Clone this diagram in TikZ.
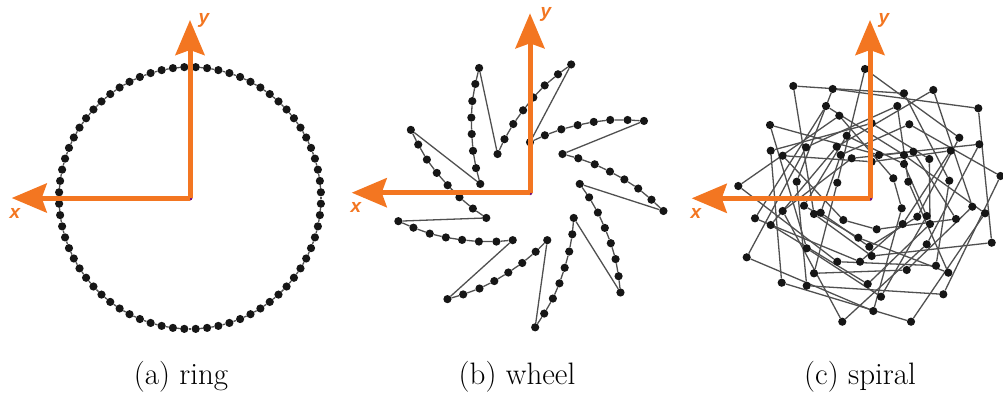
\documentclass[tikz,border=0pt]{standalone}
\usepackage{fontspec}
\newfontfamily\axf{Liberation Sans}
\usetikzlibrary{arrows.meta,backgrounds}
\definecolor{axorange}{RGB}{243,118,33}
\definecolor{dotcol}{RGB}{22,22,22}
\definecolor{edgecol}{RGB}{80,80,80}
\definecolor{ctrcol}{RGB}{120,20,120}
\begin{document}
\begin{tikzpicture}[x=1pt,y=-1pt,
  dot/.style={circle,fill=dotcol,inner sep=0pt,minimum size=8.2pt},
  link/.style={draw=edgecol,line width=1.3pt},
  axis/.style={draw=axorange,line width=5pt,-{Stealth[length=35pt,width=29pt,inset=5pt]}},
  axlabel/.style={text=axorange,font=\axf\bfseries\itshape\fontsize{19}{19}\selectfont,inner sep=0pt},
  origin/.style={circle,fill=ctrcol,inner sep=0pt,minimum size=5pt},
  caption/.style={font=\fontsize{31}{36}\selectfont,anchor=base,inner sep=0pt}]
\useasboundingbox (0,0) rectangle (1003,394);

% ---------------- (a) ring ----------------
\foreach \i in {0,...,71}{
  \node[dot] (r\i) at ({190+131*cos(2.5+5*\i)},{198-131*sin(2.5+5*\i)}) {};
}
\begin{scope}[on background layer]
\foreach \i in {0,...,71}{
  \pgfmathtruncatemacro\j{mod(\i+1,72)}
  \draw[link] (r\i) -- (r\j);
}
\end{scope}
\node[origin] (oa) at (190,198) {};
\coordinate (ya) at (190,20);
\coordinate (xa) at (11.7,198);
\draw[axis] (oa.center) -- (ya);
\draw[axis] (oa.center) -- (xa);
\node[axlabel] (lya) at (204,20) {y};
\node[axlabel] (lxa) at (15,213) {x};
\node[caption] (ca) at (181,384) {(a) ring};

% ---------------- (b) wheel ----------------
\foreach \k in {0,...,8}{
  \foreach \j/\r/\o in {0/50.5/0,1/59.3/-14.5,2/70.7/-26.3,3/82.7/-35.2,4/95.3/-42,5/108.3/-47.8,6/121.7/-53.3,7/134.7/-57.8}{
    \node[dot] (w\k-\j) at ({530+\r*cos(90-40*\k+\o)},{192.7-\r*sin(90-40*\k+\o)}) {};
  }
}
\begin{scope}[on background layer]
\foreach \k in {0,...,8}{
  \foreach \j in {0,...,6}{
    \pgfmathtruncatemacro\jn{\j+1}
    \draw[link] (w\k-\j) -- (w\k-\jn);
  }
  \pgfmathtruncatemacro\kn{mod(\k+1,9)}
  \draw[link] (w\k-7) -- (w\kn-0);
}
\end{scope}
\node[origin] (ob) at (530,192.7) {};
\coordinate (yb) at (530,13.3);
\coordinate (xb) at (351.7,192.7);
\draw[axis] (ob.center) -- (yb);
\draw[axis] (ob.center) -- (xb);
\node[axlabel] (lyb) at (546,14) {y};
\node[axlabel] (lxb) at (356,207.5) {x};
\node[caption] (cb) at (517,384) {(b) wheel};

% ---------------- (c) spiral ----------------
\foreach \n/\x/\y in {1/865/69,2/793.3/86,3/832.7/89,4/904/93.3,5/933.3/90,6/978.3/108.3,
  7/826/106,8/897.3/106,9/839.3/115.7,10/770/125,11/909.3/124.3,12/846.7/135.7,
  13/959.3/137.7,14/979.3/144.3,15/770.7/150.7,16/806/147.3,17/782.7/155.7,18/836.7/146.7,
  19/840.7/155,20/851.7/158.3,21/879/155,22/904/155,23/913.3/151.7,24/929.3/159,
  25/950.7/150.7,26/904/164,27/893.3/178.3,28/908.3/181.7,29/949.3/180.7,30/1000.5/176,
  31/738.3/186,32/796.7/181.7,33/837.3/182.7,34/804/205.7,35/782.7/211,36/814/214,
  37/820.7/212.7,38/901.7/208.3,39/972.3/206.7,40/985/213.3,41/755/218.3,42/770.7/225,
  43/843.3/220,44/876.7/229.3,45/902.7/224,46/917.3/216.7,47/926.7/216,48/930/224,
  49/956/219,50/858.3/237.7,51/926.7/244.3,52/991.7/242.7,53/806.7/248.3,54/869.3/246.7,
  55/871.7/256,56/746.7/257.3,57/837.3/261.7,58/860/261.7,59/936/265.7,60/814/273.3,
  61/906.7/270,62/948.3/272.7,63/781.7/282.7,64/806.7/285.7,65/867.7/284,66/881/296.7,
  67/943.3/294.3,68/873.3/311,69/842.3/321.7,70/911/321.7,71/871.7/123.3,72/871.7/161.7}{
  \node[dot] (s\n) at (\x,\y) {};
}
\def\sord{{30,29,28,14,25,24,13,6,27,26,23,22,5,11,4,8,21,72,71,1,3,9,12,20,7,18,19,2,16,10,17,15,33,32,31,34,35,41,42,37,36,56,53,43,63,60,64,57,50,69,58,65,54,55,68,66,44,70,61,67,59,62,51,45,48,46,52,38,47,49,40,39}}
\begin{scope}[on background layer]
\foreach \i in {0,...,71}{
  \pgfmathtruncatemacro\ia{\sord[\i]}
  \pgfmathtruncatemacro\jj{mod(\i+13,72)}
  \pgfmathtruncatemacro\ib{\sord[\jj]}
  \draw[link] (s\ia) -- (s\ib);
}
\end{scope}
\node[origin] (oc) at (870,198.3) {};
\coordinate (yc) at (870,20);
\coordinate (xc) at (691.7,198.3);
\draw[axis] (oc.center) -- (yc);
\draw[axis] (oc.center) -- (xc);
\node[axlabel] (lyc) at (884,20.5) {y};
\node[axlabel] (lxc) at (696,213) {x};
\node[caption] (cc) at (860,384) {(c) spiral};
\end{tikzpicture}
\end{document}
